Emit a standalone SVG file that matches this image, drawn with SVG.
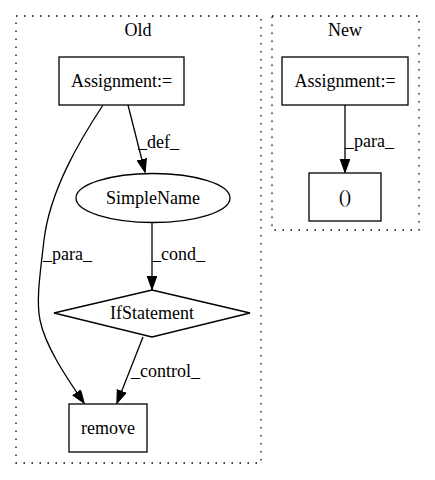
<svg xmlns="http://www.w3.org/2000/svg" width="435" height="480" viewBox="0 0 435 480">
<style>
text{font-family:"Liberation Serif","Times New Roman",serif;font-size:18px;fill:#000}
.c{text-anchor:middle}
.cl{fill:none;stroke:#000;stroke-width:1.3;stroke-dasharray:1.5,6.5}
.n{fill:#fff;stroke:#000;stroke-width:1.3}
.e{fill:none;stroke:#000;stroke-width:1.3}
</style>
<defs>
<marker id="a" markerUnits="userSpaceOnUse" markerWidth="14" markerHeight="11" refX="13" refY="5" orient="auto">
<path d="M0.5,0.5 L13,5 L0.5,9.5 z" fill="#000" stroke="#000" stroke-width="1.3"/>
</marker>
</defs>
<rect width="435" height="480" fill="#fff"/>
<g id="cluster_old">
<rect class="cl" x="16" y="16" width="245" height="447"/>
<text class="c" x="138" y="36">Old</text>
</g>
<g id="cluster_new">
<rect class="cl" x="272" y="16" width="147" height="214"/>
<text class="c" x="345" y="36">New</text>
</g>
<g id="connectors">
<path class="e" d="M128,105 L145,172" marker-end="url(#a)"/>
<text x="138" y="148">_def_</text>
<path class="e" d="M152,222 L152,289" marker-end="url(#a)"/>
<text x="152" y="260">_cond_</text>
<path class="e" d="M143,337 L117,403" marker-end="url(#a)"/>
<text x="131" y="377">_control_</text>
<path class="e" d="M103,105 C80,140 50,190 44,240 C40,275 36,300 40,320 C45,345 64,374 84,403" marker-end="url(#a)"/>
<text x="43" y="260">_para_</text>
<path class="e" d="M345,105 L345,172" marker-end="url(#a)"/>
<text x="345" y="147">_para_</text>
</g>
<g id="old_assign">
<rect class="n" x="59" y="57" width="125" height="48"/>
<text class="c" x="121.5" y="87">Assignment:=</text>
</g>
<g id="simplename">
<ellipse class="n" cx="153" cy="198" rx="77" ry="24.5"/>
<text class="c" x="153" y="204">SimpleName</text>
</g>
<g id="ifstatement">
<polygon class="n" points="152,290 250,313 152,337 54,313"/>
<text class="c" x="152" y="319">IfStatement</text>
</g>
<g id="remove">
<rect class="n" x="69" y="404" width="78" height="48"/>
<text class="c" x="108" y="434">remove</text>
</g>
<g id="new_assign">
<rect class="n" x="282" y="57" width="126" height="48"/>
<text class="c" x="345" y="87">Assignment:=</text>
</g>
<g id="paren">
<rect class="n" x="309" y="173" width="72" height="48"/>
<text class="c" x="345" y="203">()</text>
</g>
</svg>
